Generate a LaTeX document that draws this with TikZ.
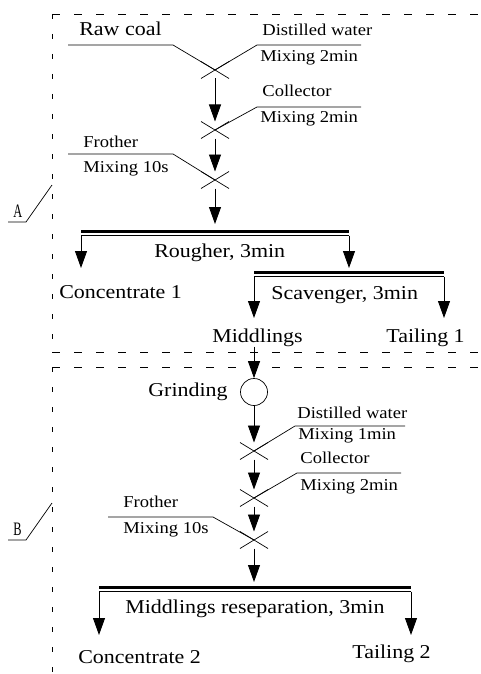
\documentclass[tikz,border=0pt]{standalone}
\usepackage{fontspec}
\setmainfont[FakeStretch=1.12]{Liberation Serif}
\newfontfamily\tagfont[FakeStretch=0.65]{Liberation Serif}
\usetikzlibrary{arrows.meta,shapes.misc}

\begin{document}
\begin{tikzpicture}[x=1pt,y=-1pt,line width=0.7pt,
 big/.style={font=\fontsize{19.6}{22}\selectfont,inner sep=0,anchor=base west},
 small/.style={font=\fontsize{16.6}{19}\selectfont,inner sep=0,anchor=base west},
 tag/.style={font=\tagfont\fontsize{19}{20}\selectfont,inner sep=0,anchor=base west},
 mixer/.style={draw,cross out,minimum width=28pt,minimum height=17pt,inner sep=0,outer sep=0},
 arr/.style={-{Triangle[length=17pt,width=12pt]},line width=0.9pt},
 cell/.style={line width=3pt},
 frameh/.style={dash pattern=on 8pt off 14pt},
 framev/.style={dash pattern=on 5pt off 15pt}]
\useasboundingbox (0,0) rectangle (480,674);
% part A
\node[big] (raw) at (79,36) {Raw coal};
\node[small] (wa1) at (262,36) {Distilled water};
\node[small] (ma1) at (260,62) {Mixing 2min};
\node[small] (co1) at (262,97) {Collector};
\node[small] (ma2) at (260,123) {Mixing 2min};
\node[small] (fr1) at (83,147) {Frother};
\node[small] (ma3) at (83,172) {Mixing 10s};
\node[mixer] (cr1) at (215,70) {};
\node[mixer] (cr2) at (215,130) {};
\node[mixer] (cr3) at (215,180) {};
\coordinate (raw0) at (68,45); \coordinate (raw1) at (173,45);
\coordinate (wa10) at (361,45); \coordinate (wa11) at (257,45);
\coordinate (co10) at (361,107); \coordinate (co11) at (257,107);
\coordinate (fr10) at (68,154); \coordinate (fr11) at (173,154);
\draw (raw0)--(raw1)--(cr1.center);
\draw (wa10)--(wa11)--(cr1.center);
\draw (co10)--(co11)--(cr2.center);
\draw (fr10)--(fr11)--(cr3.center);
\coordinate (rin) at (215,224);
\draw[arr] (cr1.south)--(cr2.north);\draw[arr] (cr2.south)--(cr3.north);\draw[arr] (cr3.south)--(rin);
% rougher and scavenger
\coordinate (ro1) at (81,231.3); \coordinate (ro2) at (349,231.3);
\draw[cell] (ro1)--(ro2); \draw ([yshift=-4.3pt]ro1)--([yshift=-4.3pt]ro2);
\node[big] (rou) at (154,257) {Rougher, 3min};
\coordinate (ro1t) at (81,268); \coordinate (ro2t) at (349,268);
\draw[arr] ([yshift=-4.3pt]ro1)--(ro1t);\draw[arr] ([yshift=-4.3pt]ro2)--(ro2t);
\node[big] (con1) at (59,298) {Concentrate 1};
\coordinate (sc1) at (254,272.3); \coordinate (sc2) at (444,272.3);
\draw[cell] (sc1)--(sc2); \draw ([yshift=-4.3pt]sc1)--([yshift=-4.3pt]sc2);
\node[big] (sca) at (271,299) {Scavenger, 3min};
\coordinate (sc1t) at (254,318); \coordinate (sc2t) at (444,318);
\draw[arr] ([yshift=-4.3pt]sc1)--(sc1t);\draw[arr] ([yshift=-4.3pt]sc2)--(sc2t);
\node[big] (mid) at (212,342) {Middlings};
\node[big] (tai1) at (386,342) {Tailing 1};
% part B
\node[draw,circle,minimum size=27pt,inner sep=0] (gri) at (254,392) {};
\node[big] (gril) at (148,396) {Grinding};
\draw[arr] (gri.north |- mid.south)--(gri.north);
\node[small] (wa2) at (297,418) {Distilled water};
\node[small] (ma4) at (298,439) {Mixing 1min};
\node[small] (co2) at (300,463) {Collector};
\node[small] (ma5) at (300,490) {Mixing 2min};
\node[small] (fr2) at (123,507) {Frother};
\node[small] (ma6) at (123,533) {Mixing 10s};
\node[mixer] (cr4) at (254,451) {};
\node[mixer] (cr5) at (254,498) {};
\node[mixer] (cr6) at (254,540) {};
\coordinate (wa20) at (405,426); \coordinate (wa21) at (295,426);
\coordinate (co20) at (401,473); \coordinate (co21) at (297,473);
\coordinate (fr20) at (108,517); \coordinate (fr21) at (213,517);
\draw (wa20)--(wa21)--(cr4.center);
\draw (co20)--(co21)--(cr5.center);
\draw (fr20)--(fr21)--(cr6.center);
\coordinate (rsin) at (254,582);
\draw[arr] (gri.south)--(cr4.north);\draw[arr] (cr4.south)--(cr5.north);
\draw[arr] (cr5.south)--(cr6.north);\draw[arr] (cr6.south)--(rsin);
\coordinate (rs1) at (99,587.3); \coordinate (rs2) at (411,587.3);
\draw[cell] (rs1)--(rs2); \draw ([yshift=-4.3pt]rs1)--([yshift=-4.3pt]rs2);
\node[big] (res) at (125,613) {Middlings reseparation, 3min};
\coordinate (rs1t) at (99,635); \coordinate (rs2t) at (411,635);
\draw[arr] ([yshift=-4.3pt]rs1)--(rs1t);\draw[arr] ([yshift=-4.3pt]rs2)--(rs2t);
\node[big] (con2) at (78,663) {Concentrate 2};
\node[big] (tai2) at (352,658) {Tailing 2};
% dashed frames and tags
\coordinate (fa) at (52,14); \coordinate (fb) at (52,352);
\coordinate (fc) at (52,367); \coordinate (fd) at (52,680);
\draw[frameh] (fa)--(495,14); \draw[framev] (fa)--(fb); \draw[frameh] (fb)--(495,352);
\draw[frameh] (fc)--(495,367); \draw[framev] (fc)--(fd);
\coordinate (ta0) at (52,185); \coordinate (ta1) at (26,222); \coordinate (ta2) at (8,222);
\draw (ta0)--(ta1)--(ta2);
\node[tag] (ta) at (13,217) {A};
\coordinate (tb0) at (52,503); \coordinate (tb1) at (26,540); \coordinate (tb2) at (8,540);
\draw (tb0)--(tb1)--(tb2);
\node[tag] (tb) at (13,535) {B};
\end{tikzpicture}
\end{document}
